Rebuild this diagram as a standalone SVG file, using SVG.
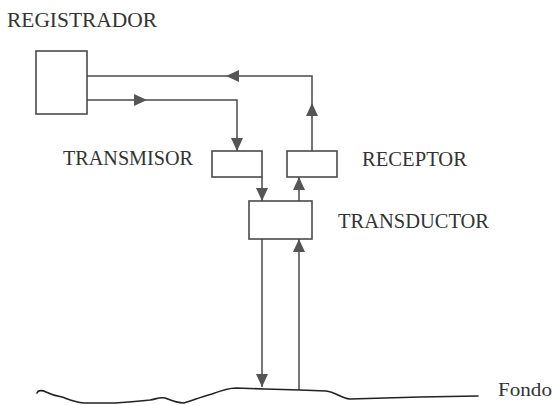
<svg xmlns="http://www.w3.org/2000/svg" width="552" height="405" viewBox="0 0 552 405">
<style>
.box{fill:#fff;stroke:#4a4a4a;stroke-width:1.6}
.ln{fill:none;stroke:#4a4a4a;stroke-width:1.5}
.gnd{fill:none;stroke:#222;stroke-width:1.6;stroke-linejoin:round;stroke-linecap:round}
.lbl{font-family:'Liberation Serif',serif;font-size:20px;fill:#333}
.ah{fill:#555}
</style>
<rect width="552" height="405" fill="#fff"/>
<g id="connectors">
<polyline class="ln" points="87,76 312,76 312,151"/>
<polyline class="ln" points="87,100 237,100 237,151"/>
<line class="ln" x1="262" y1="177" x2="262" y2="201"/>
<line class="ln" x1="299" y1="201" x2="299" y2="177"/>
<line class="ln" x1="262" y1="239" x2="262" y2="387"/>
<line class="ln" x1="299" y1="390" x2="299" y2="239"/>
<polygon class="ah" points="226,76 239,70 239,82"/>
<polygon class="ah" points="147,100 134,94 134,106"/>
<polygon class="ah" points="237,151 231,138 243,138"/>
<polygon class="ah" points="312,103 306,116 318,116"/>
<polygon class="ah" points="262,201 256,188 268,188"/>
<polygon class="ah" points="299,177 293,190 305,190"/>
<polygon class="ah" points="299,239 293,252 305,252"/>
<polygon class="ah" points="262,387 256,374 268,374"/>
</g>
<g id="registrador">
<rect class="box" x="36" y="51" width="51" height="63"/>
<text class="lbl" x="7" y="27" textLength="150" lengthAdjust="spacingAndGlyphs">REGISTRADOR</text>
</g>
<g id="transmisor">
<rect class="box" x="212" y="151" width="50" height="26"/>
<text class="lbl" x="63" y="165" textLength="130" lengthAdjust="spacingAndGlyphs">TRANSMISOR</text>
</g>
<g id="receptor">
<rect class="box" x="287" y="151" width="50" height="26"/>
<text class="lbl" x="362" y="166" textLength="105" lengthAdjust="spacingAndGlyphs">RECEPTOR</text>
</g>
<g id="transductor">
<rect class="box" x="249" y="201" width="63" height="38"/>
<text class="lbl" x="338" y="228" textLength="151" lengthAdjust="spacingAndGlyphs">TRANSDUCTOR</text>
</g>
<g id="fondo">
<path class="gnd" d="M37,393 C38,390 42,390 46,392 C50,394 55,396 62,397 C68,399 74,402 84,403 L115,403 C128,402 140,401 150,400 C156,399 160,397 165,398 C170,400 176,403 184,403 C192,401 200,397 212,394 C220,391 228,388 236,388 L265,389 L300,390 L326,391 C336,392 340,398 350,399 L420,397 L478,396"/>
<text class="lbl" x="498" y="396" textLength="54" lengthAdjust="spacingAndGlyphs" style="font-size:18px">Fondo</text>
</g>
</svg>
